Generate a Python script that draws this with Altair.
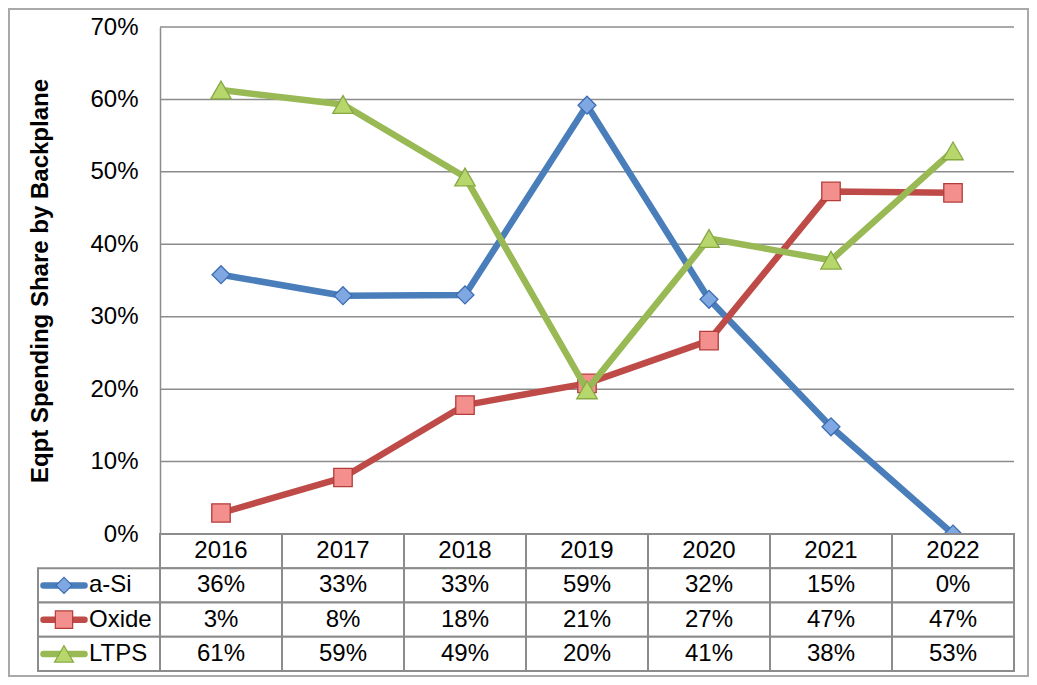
import altair as alt
import pandas as pd

# ---------------- data ----------------
years = ["2016", "2017", "2018", "2019", "2020", "2021", "2022"]
series_names = ["a-Si", "Oxide", "LTPS"]
asi_share = [0.358, 0.329, 0.330, 0.592, 0.324, 0.148, 0.000]
oxide_share = [0.029, 0.078, 0.178, 0.208, 0.267, 0.473, 0.471]
ltps_share = [0.613, 0.593, 0.493, 0.199, 0.408, 0.378, 0.529]
y_tick_values = [0.0, 0.1, 0.2, 0.3, 0.4, 0.5, 0.6, 0.7]
y_title = "Eqpt Spending Share by Backplane"

# ---------------- style ----------------
line_colors = ["#4a7ebb", "#be4b48", "#98b954"]
marker_fills = ["#7fa7e1", "#f38f8d", "#b7d66b"]
marker_edges = ["#3c6db3", "#b33d3a", "#87a944"]
marker_shapes = ["diamond", "square", "triangle-up"]
marker_sizes = [320, 340, 420]
legend_marker_sizes = [260, 300, 360]

FONT = "Liberation Sans"
GRID = "#8c8c8c"
LEG = "legend"
values_by_series = [asi_share, oxide_share, ltps_share]

x_scale = alt.Scale(type="band", domain=[LEG] + years, paddingInner=0, paddingOuter=0)
y_scale = alt.Scale(domain=[0, 0.7], nice=False, zero=True)
row_scale = alt.Scale(type="band", domain=["hdr"] + series_names, paddingInner=0, paddingOuter=0)

y_axis = alt.Axis(
    values=y_tick_values, format=".0%", offset=-122, ticks=False, grid=False,
    domainColor=GRID, domainWidth=1.5,
    labelFont=FONT, labelFontSize=24, labelColor="black", labelPadding=22,
    title=y_title, titleFont=FONT, titleFontSize=24, titleFontWeight="bold",
    titleColor="black", titlePadding=37,
)

# ---------------- top: line chart ----------------
frame = alt.Chart(pd.DataFrame({"k": [0]})).mark_rect(
    fillOpacity=0, stroke="#a9a9a9", strokeWidth=2
).encode(x=alt.value(-29), x2=alt.value(990), y=alt.value(-18), y2=alt.value(649))

grid_df = pd.DataFrame({"v": y_tick_values, "start": years[0], "end": years[-1]})
grid = alt.Chart(grid_df).mark_rule(color=GRID, strokeWidth=1.5).encode(
    x=alt.X("start:N", scale=x_scale, bandPosition=0, axis=None),
    x2=alt.X2("end:N", bandPosition=1),
    y=alt.Y("v:Q", scale=y_scale, axis=y_axis),
)

layers = [frame, grid]
for i, name in enumerate(series_names):
    df = pd.DataFrame({"year": years, "value": values_by_series[i], "series": name})
    base = alt.Chart(df).encode(
        x=alt.X("year:N", scale=x_scale, bandPosition=0.5, axis=None),
        y=alt.Y("value:Q", scale=y_scale, axis=y_axis),
    )
    layers.append(base.mark_line(color=line_colors[i], strokeWidth=6.5, strokeJoin="round"))
    layers.append(base.mark_point(
        shape=marker_shapes[i], size=marker_sizes[i], filled=True, opacity=1,
        fill=marker_fills[i], stroke=marker_edges[i], strokeWidth=1.3,
    ))

top = alt.layer(*layers).properties(width=976, height=507)

# ---------------- bottom: data table ----------------
cells = []
for y in years:
    cells.append({"col": y, "row": "hdr", "label": y})
for i, name in enumerate(series_names):
    cells.append({"col": LEG, "row": name, "label": name})
    for y, v in zip(years, values_by_series[i]):
        cells.append({"col": y, "row": name, "label": f"{v:.0%}"})
cells_df = pd.DataFrame(cells)

tx = alt.X("col:N", scale=x_scale, axis=None)
ty = alt.Y("row:N", scale=row_scale, axis=None)

cell_rects = alt.Chart(cells_df).mark_rect(fill="white", stroke=GRID, strokeWidth=2).encode(x=tx, y=ty)

value_text = alt.Chart(cells_df).transform_filter(alt.datum.col != LEG).mark_text(
    font=FONT, fontSize=24, color="black", baseline="middle"
).encode(
    x=alt.X("col:N", scale=x_scale, axis=None, bandPosition=0.5),
    y=alt.Y("row:N", scale=row_scale, axis=None, bandPosition=0.5),
    text="label:N",
)

legend_text = alt.Chart(cells_df).transform_filter(alt.datum.col == LEG).mark_text(
    font=FONT, fontSize=24, color="black", align="left", baseline="middle", dx=51
).encode(
    x=alt.X("col:N", scale=x_scale, axis=None, bandPosition=0),
    y=alt.Y("row:N", scale=row_scale, axis=None, bandPosition=0.5),
    text="label:N",
)

table_layers = [cell_rects, value_text, legend_text]
for i, name in enumerate(series_names):
    ldf = pd.DataFrame({"col": [LEG], "row": [name]})
    lbase = alt.Chart(ldf).encode(
        x=alt.X("col:N", scale=x_scale, axis=None, bandPosition=0),
        y=alt.Y("row:N", scale=row_scale, axis=None, bandPosition=0.5),
    )
    table_layers.append(lbase.mark_point(
        shape="M-1,0L1,0", size=41 * 41, filled=False, opacity=1,
        stroke=line_colors[i], strokeWidth=6.5, strokeCap="round", xOffset=26,
    ))
    table_layers.append(lbase.mark_point(
        shape=marker_shapes[i], size=legend_marker_sizes[i], filled=True, opacity=1,
        fill=marker_fills[i], stroke=marker_edges[i], strokeWidth=1.2, xOffset=26,
    ))

bottom = alt.layer(*table_layers).properties(width=976, height=137)

chart = alt.vconcat(top, bottom, spacing=0, bounds="flush", padding=0).configure_view(strokeWidth=0)

chart.save("out.html", embed_options={"renderer": "svg", "actions": False})
